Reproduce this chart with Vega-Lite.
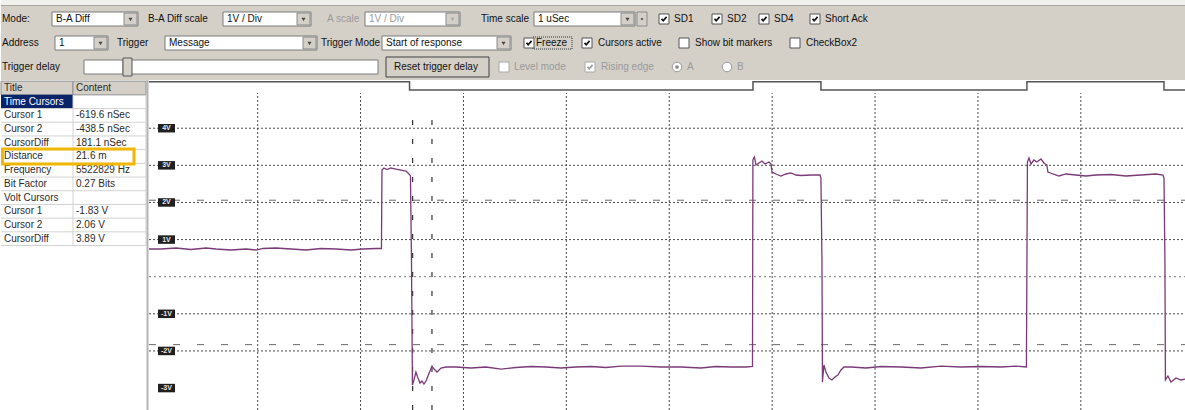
{
  "$schema": "https://vega.github.io/schema/vega-lite/v6.json",
  "padding": 0,
  "background": "white",
  "spacing": 0,
  "bounds": "flush",
  "config": {
    "view": {"stroke": null},
    "concat": {"spacing": 0},
    "text": {"font": "Liberation Sans", "fontSize": 10, "baseline": "middle", "align": "left"}
  },
  "datasets": {
    "combos": [
      {"x": 51, "x2": 137, "y": 19, "t": "B-A Diff", "s": "on"},
      {"x": 222, "x2": 310, "y": 19, "t": "1V / Div", "s": "on"},
      {"x": 364, "x2": 459, "y": 19, "t": "1V / Div", "s": "off"},
      {"x": 533, "x2": 634, "y": 19, "t": "1 uSec", "s": "on"},
      {"x": 54, "x2": 107, "y": 43, "t": "1", "s": "on"},
      {"x": 164, "x2": 316, "y": 43, "t": "Message", "s": "on"},
      {"x": 381, "x2": 510, "y": 43, "t": "Start of response", "s": "on"}
    ],
    "fields": [
      {"x": 83, "x2": 122, "y": 67},
      {"x": 127, "x2": 377, "y": 67}
    ],
    "checks": [
      {"x": 658, "y": 19, "c": "yes", "s": "on"},
      {"x": 711, "y": 19, "c": "yes", "s": "on"},
      {"x": 758, "y": 19, "c": "yes", "s": "on"},
      {"x": 809, "y": 19, "c": "yes", "s": "on"},
      {"x": 523, "y": 43, "c": "yes", "s": "on"},
      {"x": 581, "y": 43, "c": "yes", "s": "on"},
      {"x": 678, "y": 43, "c": "no", "s": "on"},
      {"x": 789, "y": 43, "c": "no", "s": "on"},
      {"x": 498, "y": 67, "c": "no", "s": "off"},
      {"x": 584, "y": 67, "c": "yes", "s": "off"}
    ],
    "radios": [
      {"x": 676, "y": 67, "c": "yes"},
      {"x": 726, "y": 67, "c": "no"}
    ],
    "labels": [
      {"x": 1, "y": 19, "t": "Mode:", "s": "on"},
      {"x": 147, "y": 19, "t": "B-A Diff scale", "s": "on"},
      {"x": 326, "y": 19, "t": "A scale", "s": "off"},
      {"x": 480, "y": 19, "t": "Time scale", "s": "on"},
      {"x": 673, "y": 19, "t": "SD1", "s": "on"},
      {"x": 726, "y": 19, "t": "SD2", "s": "on"},
      {"x": 773, "y": 19, "t": "SD4", "s": "on"},
      {"x": 824, "y": 19, "t": "Short Ack", "s": "on"},
      {"x": 1, "y": 43, "t": "Address", "s": "on"},
      {"x": 116, "y": 43, "t": "Trigger", "s": "on"},
      {"x": 320, "y": 43, "t": "Trigger Mode", "s": "on"},
      {"x": 535, "y": 43, "t": "Freeze", "s": "on"},
      {"x": 597, "y": 43, "t": "Cursors active", "s": "on"},
      {"x": 694, "y": 43, "t": "Show bit markers", "s": "on"},
      {"x": 805, "y": 43, "t": "CheckBox2", "s": "on"},
      {"x": 1, "y": 67, "t": "Trigger delay", "s": "on"},
      {"x": 393, "y": 67, "t": "Reset trigger delay", "s": "on"},
      {"x": 513, "y": 67, "t": "Level mode", "s": "off"},
      {"x": 600, "y": 67, "t": "Rising edge", "s": "off"},
      {"x": 686, "y": 67, "t": "A", "s": "off"},
      {"x": 736, "y": 67, "t": "B", "s": "off"}
    ],
    "tbl": [
      {"r": 0, "a": "Title", "b": "Content"},
      {"r": 1, "a": "Time Cursors", "b": ""},
      {"r": 2, "a": "Cursor 1", "b": "-619.6 nSec"},
      {"r": 3, "a": "Cursor 2", "b": "-438.5 nSec"},
      {"r": 4, "a": "CursorDiff", "b": "181.1 nSec"},
      {"r": 5, "a": "Distance", "b": "21.6 m"},
      {"r": 6, "a": "Frequency", "b": "5522829 Hz"},
      {"r": 7, "a": "Bit Factor", "b": "0.27 Bits"},
      {"r": 8, "a": "Volt Cursors", "b": ""},
      {"r": 9, "a": "Cursor 1", "b": "-1.83 V"},
      {"r": 10, "a": "Cursor 2", "b": "2.06 V"},
      {"r": 11, "a": "CursorDiff", "b": "3.89 V"}
    ],
    "trace": [
      {"i": 0, "t": -0.056, "v": 0.746}, {"i": 1, "t": 0.06, "v": 0.746}, {"i": 2, "t": 0.206, "v": 0.773},
      {"i": 3, "t": 0.352, "v": 0.733}, {"i": 4, "t": 0.498, "v": 0.773}, {"i": 5, "t": 0.595, "v": 0.746},
      {"i": 6, "t": 0.741, "v": 0.719}, {"i": 7, "t": 0.887, "v": 0.746}, {"i": 8, "t": 0.986, "v": 0.719},
      {"i": 9, "t": 1.052, "v": 0.76}, {"i": 10, "t": 1.178, "v": 0.773}, {"i": 11, "t": 1.324, "v": 0.746},
      {"i": 12, "t": 1.469, "v": 0.719}, {"i": 13, "t": 1.615, "v": 0.76}, {"i": 14, "t": 1.761, "v": 0.746},
      {"i": 15, "t": 1.907, "v": 0.719}, {"i": 16, "t": 2.023, "v": 0.746}, {"i": 17, "t": 2.15, "v": 0.76},
      {"i": 18, "t": 2.203, "v": 0.76}, {"i": 19, "t": 2.208, "v": 2.874}, {"i": 20, "t": 2.227, "v": 2.928},
      {"i": 21, "t": 2.257, "v": 2.888}, {"i": 22, "t": 2.295, "v": 2.928}, {"i": 23, "t": 2.344, "v": 2.901},
      {"i": 24, "t": 2.393, "v": 2.874}, {"i": 25, "t": 2.441, "v": 2.847}, {"i": 26, "t": 2.471, "v": 2.767},
      {"i": 27, "t": 2.485, "v": 2.713}, {"i": 28, "t": 2.495, "v": 0.45}, {"i": 29, "t": 2.5, "v": -1.436},
      {"i": 30, "t": 2.504, "v": -2.918}, {"i": 31, "t": 2.519, "v": -2.783}, {"i": 32, "t": 2.538, "v": -2.567},
      {"i": 33, "t": 2.558, "v": -2.729}, {"i": 34, "t": 2.577, "v": -2.864}, {"i": 35, "t": 2.597, "v": -2.81},
      {"i": 36, "t": 2.616, "v": -2.891}, {"i": 37, "t": 2.636, "v": -2.81}, {"i": 38, "t": 2.655, "v": -2.675},
      {"i": 39, "t": 2.675, "v": -2.54}, {"i": 40, "t": 2.694, "v": -2.407}, {"i": 41, "t": 2.714, "v": -2.488},
      {"i": 42, "t": 2.743, "v": -2.567}, {"i": 43, "t": 2.782, "v": -2.46}, {"i": 44, "t": 2.83, "v": -2.433},
      {"i": 45, "t": 2.927, "v": -2.433}, {"i": 46, "t": 3.073, "v": -2.46}, {"i": 47, "t": 3.219, "v": -2.433},
      {"i": 48, "t": 3.365, "v": -2.488}, {"i": 49, "t": 3.51, "v": -2.446}, {"i": 50, "t": 3.656, "v": -2.419},
      {"i": 51, "t": 3.802, "v": -2.433}, {"i": 52, "t": 3.948, "v": -2.46}, {"i": 53, "t": 4.093, "v": -2.433},
      {"i": 54, "t": 4.239, "v": -2.419}, {"i": 55, "t": 4.385, "v": -2.446}, {"i": 56, "t": 4.531, "v": -2.407},
      {"i": 57, "t": 4.725, "v": -2.407}, {"i": 58, "t": 4.919, "v": -2.433}, {"i": 59, "t": 5.114, "v": -2.433},
      {"i": 60, "t": 5.308, "v": -2.46}, {"i": 61, "t": 5.454, "v": -2.419}, {"i": 62, "t": 5.6, "v": -2.433},
      {"i": 63, "t": 5.746, "v": -2.433}, {"i": 64, "t": 5.809, "v": -2.419}, {"i": 65, "t": 5.813, "v": 3.144},
      {"i": 66, "t": 5.828, "v": 3.225}, {"i": 67, "t": 5.843, "v": 3.009}, {"i": 68, "t": 5.872, "v": 3.063},
      {"i": 69, "t": 5.901, "v": 3.117}, {"i": 70, "t": 5.931, "v": 3.036}, {"i": 71, "t": 5.969, "v": 3.09},
      {"i": 72, "t": 5.989, "v": 3.036}, {"i": 73, "t": 5.998, "v": 2.82}, {"i": 74, "t": 6.037, "v": 2.767},
      {"i": 75, "t": 6.086, "v": 2.713}, {"i": 76, "t": 6.134, "v": 2.767}, {"i": 77, "t": 6.183, "v": 2.794},
      {"i": 78, "t": 6.231, "v": 2.74}, {"i": 79, "t": 6.28, "v": 2.726}, {"i": 80, "t": 6.377, "v": 2.74},
      {"i": 81, "t": 6.465, "v": 2.74}, {"i": 82, "t": 6.474, "v": 2.659}, {"i": 83, "t": 6.484, "v": 0.45},
      {"i": 84, "t": 6.489, "v": -2.837}, {"i": 85, "t": 6.503, "v": -2.379}, {"i": 86, "t": 6.523, "v": -2.567},
      {"i": 87, "t": 6.552, "v": -2.729}, {"i": 88, "t": 6.581, "v": -2.783}, {"i": 89, "t": 6.61, "v": -2.702},
      {"i": 90, "t": 6.639, "v": -2.648}, {"i": 91, "t": 6.669, "v": -2.513}, {"i": 92, "t": 6.698, "v": -2.433},
      {"i": 93, "t": 6.766, "v": -2.433}, {"i": 94, "t": 6.912, "v": -2.46}, {"i": 95, "t": 7.058, "v": -2.419},
      {"i": 96, "t": 7.252, "v": -2.433}, {"i": 97, "t": 7.447, "v": -2.46}, {"i": 98, "t": 7.641, "v": -2.407},
      {"i": 99, "t": 7.835, "v": -2.433}, {"i": 100, "t": 8.03, "v": -2.419}, {"i": 101, "t": 8.224, "v": -2.433},
      {"i": 102, "t": 8.37, "v": -2.407}, {"i": 103, "t": 8.471, "v": -2.433}, {"i": 104, "t": 8.481, "v": 3.09},
      {"i": 105, "t": 8.496, "v": 3.198}, {"i": 106, "t": 8.515, "v": 3.036}, {"i": 107, "t": 8.544, "v": 3.144},
      {"i": 108, "t": 8.573, "v": 3.09}, {"i": 109, "t": 8.612, "v": 3.171}, {"i": 110, "t": 8.641, "v": 3.063},
      {"i": 111, "t": 8.67, "v": 3.009}, {"i": 112, "t": 8.68, "v": 2.82}, {"i": 113, "t": 8.729, "v": 2.767},
      {"i": 114, "t": 8.787, "v": 2.713}, {"i": 115, "t": 8.855, "v": 2.767}, {"i": 116, "t": 8.952, "v": 2.74},
      {"i": 117, "t": 9.049, "v": 2.713}, {"i": 118, "t": 9.147, "v": 2.74}, {"i": 119, "t": 9.292, "v": 2.753},
      {"i": 120, "t": 9.438, "v": 2.713}, {"i": 121, "t": 9.584, "v": 2.74}, {"i": 122, "t": 9.73, "v": 2.767},
      {"i": 123, "t": 9.798, "v": 2.74}, {"i": 124, "t": 9.808, "v": 2.659}, {"i": 125, "t": 9.817, "v": 0.45},
      {"i": 126, "t": 9.822, "v": -2.783}, {"i": 127, "t": 9.846, "v": -2.675}, {"i": 128, "t": 9.876, "v": -2.837},
      {"i": 129, "t": 9.924, "v": -2.729}, {"i": 130, "t": 9.973, "v": -2.783}, {"i": 131, "t": 10.022, "v": -2.756}
    ],
    "digital": [
      {"i": 0, "t": -0.056, "v": 5.25}, {"i": 1, "t": 2.476, "v": 5.25}, {"i": 2, "t": 2.476, "v": 5.03},
      {"i": 3, "t": 5.814, "v": 5.03}, {"i": 4, "t": 5.814, "v": 5.25}, {"i": 5, "t": 6.474, "v": 5.25},
      {"i": 6, "t": 6.474, "v": 5.03}, {"i": 7, "t": 8.476, "v": 5.03}, {"i": 8, "t": 8.476, "v": 5.25},
      {"i": 9, "t": 9.808, "v": 5.25}, {"i": 10, "t": 9.808, "v": 5.03}, {"i": 11, "t": 10.022, "v": 5.03}
    ],
    "vlabels": [
      {"v": 4, "l": "4V"}, {"v": 3, "l": "3V"}, {"v": 2, "l": "2V"}, {"v": 1, "l": "1V"},
      {"v": -1, "l": "-1V"}, {"v": -2, "l": "-2V"}, {"v": -3, "l": "-3V"}
    ]
  },
  "vconcat": [
    {
      "width": 1185,
      "height": 80,
      "view": {"fill": "#d4d0c8", "stroke": null},
      "layer": [
        {
          "data": {"values": [{}]},
          "mark": {"type": "rect", "color": "#f1f0ec"},
          "encoding": {
            "x": {"datum": 0, "type": "quantitative", "scale": {"domain": [0, 1185], "nice": false, "zero": false}, "axis": null},
            "x2": {"datum": 1185},
            "y": {"datum": 0, "type": "quantitative", "scale": {"domain": [0, 80], "nice": false, "zero": false, "reverse": true}, "axis": null},
            "y2": {"datum": 5}
          }
        },
        {
          "data": {"values": [{}]},
          "mark": {"type": "rule", "color": "#a9a69f", "strokeWidth": 1},
          "encoding": {
            "x": {"datum": 0, "type": "quantitative", "scale": {"domain": [0, 1185], "nice": false, "zero": false}, "axis": null},
            "x2": {"datum": 1185},
            "y": {"datum": 5.5, "type": "quantitative", "scale": {"domain": [0, 80], "nice": false, "zero": false, "reverse": true}, "axis": null}
          }
        },
        {
          "data": {"name": "combos"},
          "mark": {"type": "rect", "fill": "white", "stroke": "#7a7a7a", "strokeWidth": 1, "yOffset": -7, "y2Offset": 7},
          "encoding": {
            "x": {"field": "x", "type": "quantitative", "scale": {"domain": [0, 1185], "nice": false, "zero": false}, "axis": null},
            "x2": {"field": "x2"},
            "y": {"field": "y", "type": "quantitative", "scale": {"domain": [0, 80], "nice": false, "zero": false, "reverse": true}, "axis": null},
            "y2": {"field": "y"}
          }
        },
        {
          "data": {"name": "fields"},
          "mark": {"type": "rect", "fill": "white", "stroke": "#7a7a7a", "strokeWidth": 1, "yOffset": -7, "y2Offset": 7},
          "encoding": {
            "x": {"field": "x", "type": "quantitative", "scale": {"domain": [0, 1185], "nice": false, "zero": false}, "axis": null},
            "x2": {"field": "x2"},
            "y": {"field": "y", "type": "quantitative", "scale": {"domain": [0, 80], "nice": false, "zero": false, "reverse": true}, "axis": null},
            "y2": {"field": "y"}
          }
        },
        {
          "data": {"name": "combos"},
          "mark": {"type": "rect", "fill": "#d4d0c8", "stroke": "#8a8a8a", "strokeWidth": 1, "xOffset": -14, "x2Offset": -1, "yOffset": -6, "y2Offset": 6},
          "encoding": {
            "x": {"field": "x2", "type": "quantitative", "scale": {"domain": [0, 1185], "nice": false, "zero": false}, "axis": null},
            "x2": {"field": "x2"},
            "y": {"field": "y", "type": "quantitative", "scale": {"domain": [0, 80], "nice": false, "zero": false, "reverse": true}, "axis": null},
            "y2": {"field": "y"}
          }
        },
        {
          "data": {"name": "combos"},
          "mark": {"type": "point", "shape": "triangle-down", "filled": true, "size": 16, "xOffset": -7.5, "yOffset": 0.5},
          "encoding": {
            "x": {"field": "x2", "type": "quantitative", "scale": {"domain": [0, 1185], "nice": false, "zero": false}, "axis": null},
            "y": {"field": "y", "type": "quantitative", "scale": {"domain": [0, 80], "nice": false, "zero": false, "reverse": true}, "axis": null},
            "color": {"field": "s", "type": "nominal", "scale": {"domain": ["on", "off"], "range": ["#111111", "#9a9a9a"]}, "legend": null}
          }
        },
        {
          "data": {"name": "combos"},
          "mark": {"type": "text", "dx": 4, "clip": true},
          "encoding": {
            "x": {"field": "x", "type": "quantitative", "scale": {"domain": [0, 1185], "nice": false, "zero": false}, "axis": null},
            "y": {"field": "y", "type": "quantitative", "scale": {"domain": [0, 80], "nice": false, "zero": false, "reverse": true}, "axis": null},
            "text": {"field": "t"},
            "color": {"field": "s", "type": "nominal", "scale": {"domain": ["on", "off"], "range": ["#1c1c1c", "#a6a6a6"]}, "legend": null}
          }
        },
        {
          "data": {"values": [{"x": 122, "x2": 131, "y": 67}]},
          "mark": {"type": "rect", "fill": "#d4d0c8", "stroke": "#555555", "strokeWidth": 1, "yOffset": -9, "y2Offset": 9},
          "encoding": {
            "x": {"field": "x", "type": "quantitative", "scale": {"domain": [0, 1185], "nice": false, "zero": false}, "axis": null},
            "x2": {"field": "x2"},
            "y": {"field": "y", "type": "quantitative", "scale": {"domain": [0, 80], "nice": false, "zero": false, "reverse": true}, "axis": null},
            "y2": {"field": "y"}
          }
        },
        {
          "data": {"values": [{"x": 385, "x2": 488, "y": 67}]},
          "mark": {"type": "rect", "fill": "#d4d0c8", "stroke": "#404040", "strokeWidth": 1, "yOffset": -10, "y2Offset": 10},
          "encoding": {
            "x": {"field": "x", "type": "quantitative", "scale": {"domain": [0, 1185], "nice": false, "zero": false}, "axis": null},
            "x2": {"field": "x2"},
            "y": {"field": "y", "type": "quantitative", "scale": {"domain": [0, 80], "nice": false, "zero": false, "reverse": true}, "axis": null},
            "y2": {"field": "y"}
          }
        },
        {
          "data": {"values": [{"x": 636, "x2": 646, "y": 19}]},
          "mark": {"type": "rect", "fill": "#d4d0c8", "stroke": "#8a8a8a", "strokeWidth": 1, "yOffset": -7, "y2Offset": 7},
          "encoding": {
            "x": {"field": "x", "type": "quantitative", "scale": {"domain": [0, 1185], "nice": false, "zero": false}, "axis": null},
            "x2": {"field": "x2"},
            "y": {"field": "y", "type": "quantitative", "scale": {"domain": [0, 80], "nice": false, "zero": false, "reverse": true}, "axis": null},
            "y2": {"field": "y"}
          }
        },
        {
          "data": {"values": [{"x": 641, "y": 19, "d": "up"}, {"x": 641, "y": 19, "d": "down"}]},
          "mark": {"type": "point", "filled": true, "size": 8, "color": "#222222"},
          "encoding": {
            "x": {"field": "x", "type": "quantitative", "scale": {"domain": [0, 1185], "nice": false, "zero": false}, "axis": null},
            "y": {"field": "y", "type": "quantitative", "scale": {"domain": [0, 80], "nice": false, "zero": false, "reverse": true}, "axis": null},
            "shape": {"field": "d", "type": "nominal", "scale": {"domain": ["up", "down"], "range": ["M-1,0.2L1,0.2L0,-0.9Z", "M-1,-0.2L1,-0.2L0,0.9Z"]}, "legend": null},
            "yOffset": {"field": "d", "type": "nominal", "scale": {"domain": ["up", "down"], "range": [-3, 3]}}
          }
        },
        {
          "data": {"values": [{"x": 532, "x2": 571, "y": 43}]},
          "mark": {"type": "rect", "fillOpacity": 0, "stroke": "#333333", "strokeWidth": 1, "strokeDash": [1, 1], "yOffset": -6, "y2Offset": 6},
          "encoding": {
            "x": {"field": "x", "type": "quantitative", "scale": {"domain": [0, 1185], "nice": false, "zero": false}, "axis": null},
            "x2": {"field": "x2"},
            "y": {"field": "y", "type": "quantitative", "scale": {"domain": [0, 80], "nice": false, "zero": false, "reverse": true}, "axis": null},
            "y2": {"field": "y"}
          }
        },
        {
          "data": {"name": "checks"},
          "mark": {"type": "rect", "fill": "white", "strokeWidth": 1, "x2Offset": 10, "yOffset": -5, "y2Offset": 5},
          "encoding": {
            "x": {"field": "x", "type": "quantitative", "scale": {"domain": [0, 1185], "nice": false, "zero": false}, "axis": null},
            "x2": {"field": "x"},
            "y": {"field": "y", "type": "quantitative", "scale": {"domain": [0, 80], "nice": false, "zero": false, "reverse": true}, "axis": null},
            "y2": {"field": "y"},
            "stroke": {"field": "s", "type": "nominal", "scale": {"domain": ["on", "off"], "range": ["#555555", "#aaaaaa"]}, "legend": null}
          }
        },
        {
          "data": {"name": "checks"},
          "transform": [{"filter": "datum.c === 'yes'"}],
          "mark": {"type": "point", "shape": "M-0.75,-0.05L-0.25,0.55L0.8,-0.65", "filled": false, "size": 42, "strokeWidth": 1.7, "xOffset": 5, "opacity": 1},
          "encoding": {
            "x": {"field": "x", "type": "quantitative", "scale": {"domain": [0, 1185], "nice": false, "zero": false}, "axis": null},
            "y": {"field": "y", "type": "quantitative", "scale": {"domain": [0, 80], "nice": false, "zero": false, "reverse": true}, "axis": null},
            "color": {"field": "s", "type": "nominal", "scale": {"domain": ["on", "off"], "range": ["#111111", "#8a8a8a"]}, "legend": null}
          }
        },
        {
          "data": {"name": "radios"},
          "mark": {"type": "point", "shape": "circle", "filled": true, "size": 90, "fill": "white", "stroke": "#9a9a9a", "strokeWidth": 1, "opacity": 1},
          "encoding": {
            "x": {"field": "x", "type": "quantitative", "scale": {"domain": [0, 1185], "nice": false, "zero": false}, "axis": null},
            "y": {"field": "y", "type": "quantitative", "scale": {"domain": [0, 80], "nice": false, "zero": false, "reverse": true}, "axis": null}
          }
        },
        {
          "data": {"name": "radios"},
          "transform": [{"filter": "datum.c === 'yes'"}],
          "mark": {"type": "point", "shape": "circle", "filled": true, "size": 14, "color": "#8a8a8a", "opacity": 1},
          "encoding": {
            "x": {"field": "x", "type": "quantitative", "scale": {"domain": [0, 1185], "nice": false, "zero": false}, "axis": null},
            "y": {"field": "y", "type": "quantitative", "scale": {"domain": [0, 80], "nice": false, "zero": false, "reverse": true}, "axis": null}
          }
        },
        {
          "data": {"name": "labels"},
          "mark": {"type": "text", "clip": true},
          "encoding": {
            "x": {"field": "x", "type": "quantitative", "scale": {"domain": [0, 1185], "nice": false, "zero": false}, "axis": null},
            "y": {"field": "y", "type": "quantitative", "scale": {"domain": [0, 80], "nice": false, "zero": false, "reverse": true}, "axis": null},
            "text": {"field": "t"},
            "color": {"field": "s", "type": "nominal", "scale": {"domain": ["on", "off"], "range": ["#1c1c1c", "#a6a6a6"]}, "legend": null}
          }
        }
      ]
    },
    {
      "hconcat": [
        {
          "width": 148,
          "height": 330,
          "view": {"fill": "white", "stroke": null},
          "layer": [
            {
              "data": {"values": [{"a": 0, "b": 72}, {"a": 72, "b": 145}]},
              "mark": {"type": "rect", "fill": "#d4d0c8", "stroke": "#8f8f8f", "strokeWidth": 1},
              "encoding": {
                "x": {"field": "a", "type": "quantitative", "scale": {"domain": [0, 148], "nice": false, "zero": false}, "axis": null},
                "x2": {"field": "b"},
                "y": {"datum": -0.5, "type": "quantitative", "scale": {"domain": [-0.584, 23.504], "nice": false, "zero": false, "reverse": true}, "axis": null},
                "y2": {"datum": 0.5}
              }
            },
            {
              "data": {"values": [{}]},
              "mark": {"type": "rect", "fill": "#0a246a"},
              "encoding": {
                "x": {"datum": 0, "type": "quantitative", "scale": {"domain": [0, 148], "nice": false, "zero": false}, "axis": null},
                "x2": {"datum": 72},
                "y": {"datum": 0.5, "type": "quantitative", "scale": {"domain": [-0.584, 23.504], "nice": false, "zero": false, "reverse": true}, "axis": null},
                "y2": {"datum": 1.5}
              }
            },
            {
              "data": {"values": [{"r": 1.5}, {"r": 2.5}, {"r": 3.5}, {"r": 4.5}, {"r": 5.5}, {"r": 6.5}, {"r": 7.5}, {"r": 8.5}, {"r": 9.5}, {"r": 10.5}, {"r": 11.5}]},
              "mark": {"type": "rule", "color": "#d2d2d2", "strokeWidth": 1},
              "encoding": {
                "x": {"datum": 0, "type": "quantitative", "scale": {"domain": [0, 148], "nice": false, "zero": false}, "axis": null},
                "x2": {"datum": 145},
                "y": {"field": "r", "type": "quantitative", "scale": {"domain": [-0.584, 23.504], "nice": false, "zero": false, "reverse": true}, "axis": null}
              }
            },
            {
              "data": {"values": [{"x": 72}, {"x": 145}]},
              "mark": {"type": "rule", "color": "#d2d2d2", "strokeWidth": 1},
              "encoding": {
                "x": {"field": "x", "type": "quantitative", "scale": {"domain": [0, 148], "nice": false, "zero": false}, "axis": null},
                "y": {"datum": 0.5, "type": "quantitative", "scale": {"domain": [-0.584, 23.504], "nice": false, "zero": false, "reverse": true}, "axis": null},
                "y2": {"datum": 11.5}
              }
            },
            {
              "data": {"name": "tbl"},
              "mark": {"type": "text", "clip": true},
              "encoding": {
                "x": {"datum": 3, "type": "quantitative", "scale": {"domain": [0, 148], "nice": false, "zero": false}, "axis": null},
                "y": {"field": "r", "type": "quantitative", "scale": {"domain": [-0.584, 23.504], "nice": false, "zero": false, "reverse": true}, "axis": null},
                "text": {"field": "a"},
                "color": {"condition": {"test": "datum.r === 1", "value": "#ffffff"}, "value": "#2a2a2a"}
              }
            },
            {
              "data": {"name": "tbl"},
              "mark": {"type": "text", "clip": true, "color": "#2a2a2a"},
              "encoding": {
                "x": {"datum": 75, "type": "quantitative", "scale": {"domain": [0, 148], "nice": false, "zero": false}, "axis": null},
                "y": {"field": "r", "type": "quantitative", "scale": {"domain": [-0.584, 23.504], "nice": false, "zero": false, "reverse": true}, "axis": null},
                "text": {"field": "b"}
              }
            },
            {
              "data": {"values": [{}]},
              "mark": {"type": "rect", "fillOpacity": 0, "stroke": "#f2b705", "strokeWidth": 3},
              "encoding": {
                "x": {"datum": 1.5, "type": "quantitative", "scale": {"domain": [0, 148], "nice": false, "zero": false}, "axis": null},
                "x2": {"datum": 133},
                "y": {"datum": 4.45, "type": "quantitative", "scale": {"domain": [-0.584, 23.504], "nice": false, "zero": false, "reverse": true}, "axis": null},
                "y2": {"datum": 5.55}
              }
            },
            {
              "data": {"values": [{}]},
              "mark": {"type": "rule", "color": "#b4b4b4", "strokeWidth": 2},
              "encoding": {
                "x": {"datum": 146.5, "type": "quantitative", "scale": {"domain": [0, 148], "nice": false, "zero": false}, "axis": null},
                "y": {"datum": -0.584, "type": "quantitative", "scale": {"domain": [-0.584, 23.504], "nice": false, "zero": false, "reverse": true}, "axis": null},
                "y2": {"datum": 23.504}
              }
            }
          ]
        },
        {
          "width": 1037,
          "height": 330,
          "view": {"fill": "white", "stroke": null},
          "layer": [
            {
              "data": {"values": [{"v": 4}, {"v": 3}, {"v": 2}, {"v": 1}, {"v": -1}, {"v": -2}]},
              "mark": {"type": "rule", "color": "#4a4a4a", "strokeWidth": 1, "strokeDash": [2, 2]},
              "encoding": {
                "x": {"datum": -0.056, "type": "quantitative", "scale": {"domain": [-0.056, 10.022], "nice": false, "zero": false}, "axis": null},
                "x2": {"datum": 10.022},
                "y": {"field": "v", "type": "quantitative", "scale": {"domain": [-3.591, 5.299], "nice": false, "zero": false}, "axis": null}
              }
            },
            {
              "data": {"values": [{}]},
              "mark": {"type": "rule", "color": "#7a7a7a", "strokeWidth": 1, "strokeDash": [2, 3]},
              "encoding": {
                "x": {"datum": -0.056, "type": "quantitative", "scale": {"domain": [-0.056, 10.022], "nice": false, "zero": false}, "axis": null},
                "x2": {"datum": 10.022},
                "y": {"datum": 0, "type": "quantitative", "scale": {"domain": [-3.591, 5.299], "nice": false, "zero": false}, "axis": null}
              }
            },
            {
              "data": {"values": [{"t": 1}, {"t": 2}, {"t": 3}, {"t": 4}, {"t": 5}, {"t": 6}, {"t": 7}, {"t": 8}, {"t": 9}]},
              "mark": {"type": "rule", "color": "#4a4a4a", "strokeWidth": 1, "strokeDash": [2, 2]},
              "encoding": {
                "x": {"field": "t", "type": "quantitative", "scale": {"domain": [-0.056, 10.022], "nice": false, "zero": false}, "axis": null},
                "y": {"datum": -3.591, "type": "quantitative", "scale": {"domain": [-3.591, 5.299], "nice": false, "zero": false}, "axis": null},
                "y2": {"datum": 4.95}
              }
            },
            {
              "data": {"values": [{"v": 2.06}, {"v": -1.83}]},
              "mark": {"type": "rule", "color": "#6a6a6a", "strokeWidth": 1, "strokeDash": [7, 17]},
              "encoding": {
                "x": {"datum": -0.056, "type": "quantitative", "scale": {"domain": [-0.056, 10.022], "nice": false, "zero": false}, "axis": null},
                "x2": {"datum": 10.022},
                "y": {"field": "v", "type": "quantitative", "scale": {"domain": [-3.591, 5.299], "nice": false, "zero": false}, "axis": null}
              }
            },
            {
              "data": {"values": [{"t": 2.506}, {"t": 2.694}]},
              "mark": {"type": "rule", "color": "#333333", "strokeWidth": 1.2, "strokeDash": [5, 14]},
              "encoding": {
                "x": {"field": "t", "type": "quantitative", "scale": {"domain": [-0.056, 10.022], "nice": false, "zero": false}, "axis": null},
                "y": {"datum": -3.591, "type": "quantitative", "scale": {"domain": [-3.591, 5.299], "nice": false, "zero": false}, "axis": null},
                "y2": {"datum": 4.6}
              }
            },
            {
              "data": {"name": "digital"},
              "mark": {"type": "line", "color": "#555555", "strokeWidth": 1.5, "clip": true},
              "encoding": {
                "x": {"field": "t", "type": "quantitative", "scale": {"domain": [-0.056, 10.022], "nice": false, "zero": false}, "axis": null},
                "y": {"field": "v", "type": "quantitative", "scale": {"domain": [-3.591, 5.299], "nice": false, "zero": false}, "axis": null},
                "order": {"field": "i", "type": "quantitative"}
              }
            },
            {
              "data": {"name": "trace"},
              "mark": {"type": "line", "color": "#7a3a78", "strokeWidth": 1.3, "clip": true},
              "encoding": {
                "x": {"field": "t", "type": "quantitative", "scale": {"domain": [-0.056, 10.022], "nice": false, "zero": false}, "axis": null},
                "y": {"field": "v", "type": "quantitative", "scale": {"domain": [-3.591, 5.299], "nice": false, "zero": false}, "axis": null},
                "order": {"field": "i", "type": "quantitative"}
              }
            },
            {
              "data": {"name": "vlabels"},
              "mark": {"type": "point", "shape": "M-1,-0.5L1,-0.5L1,0.5L-1,0.5Z", "filled": true, "size": 289, "color": "#202020", "opacity": 1},
              "encoding": {
                "x": {"datum": 0.114, "type": "quantitative", "scale": {"domain": [-0.056, 10.022], "nice": false, "zero": false}, "axis": null},
                "y": {"field": "v", "type": "quantitative", "scale": {"domain": [-3.591, 5.299], "nice": false, "zero": false}, "axis": null}
              }
            },
            {
              "data": {"name": "vlabels"},
              "mark": {"type": "text", "align": "center", "fontSize": 7, "fontWeight": "bold", "color": "#e8e8e8"},
              "encoding": {
                "x": {"datum": 0.114, "type": "quantitative", "scale": {"domain": [-0.056, 10.022], "nice": false, "zero": false}, "axis": null},
                "y": {"field": "v", "type": "quantitative", "scale": {"domain": [-3.591, 5.299], "nice": false, "zero": false}, "axis": null},
                "text": {"field": "l"}
              }
            }
          ]
        }
      ],
      "spacing": 0,
      "bounds": "flush"
    }
  ]
}
